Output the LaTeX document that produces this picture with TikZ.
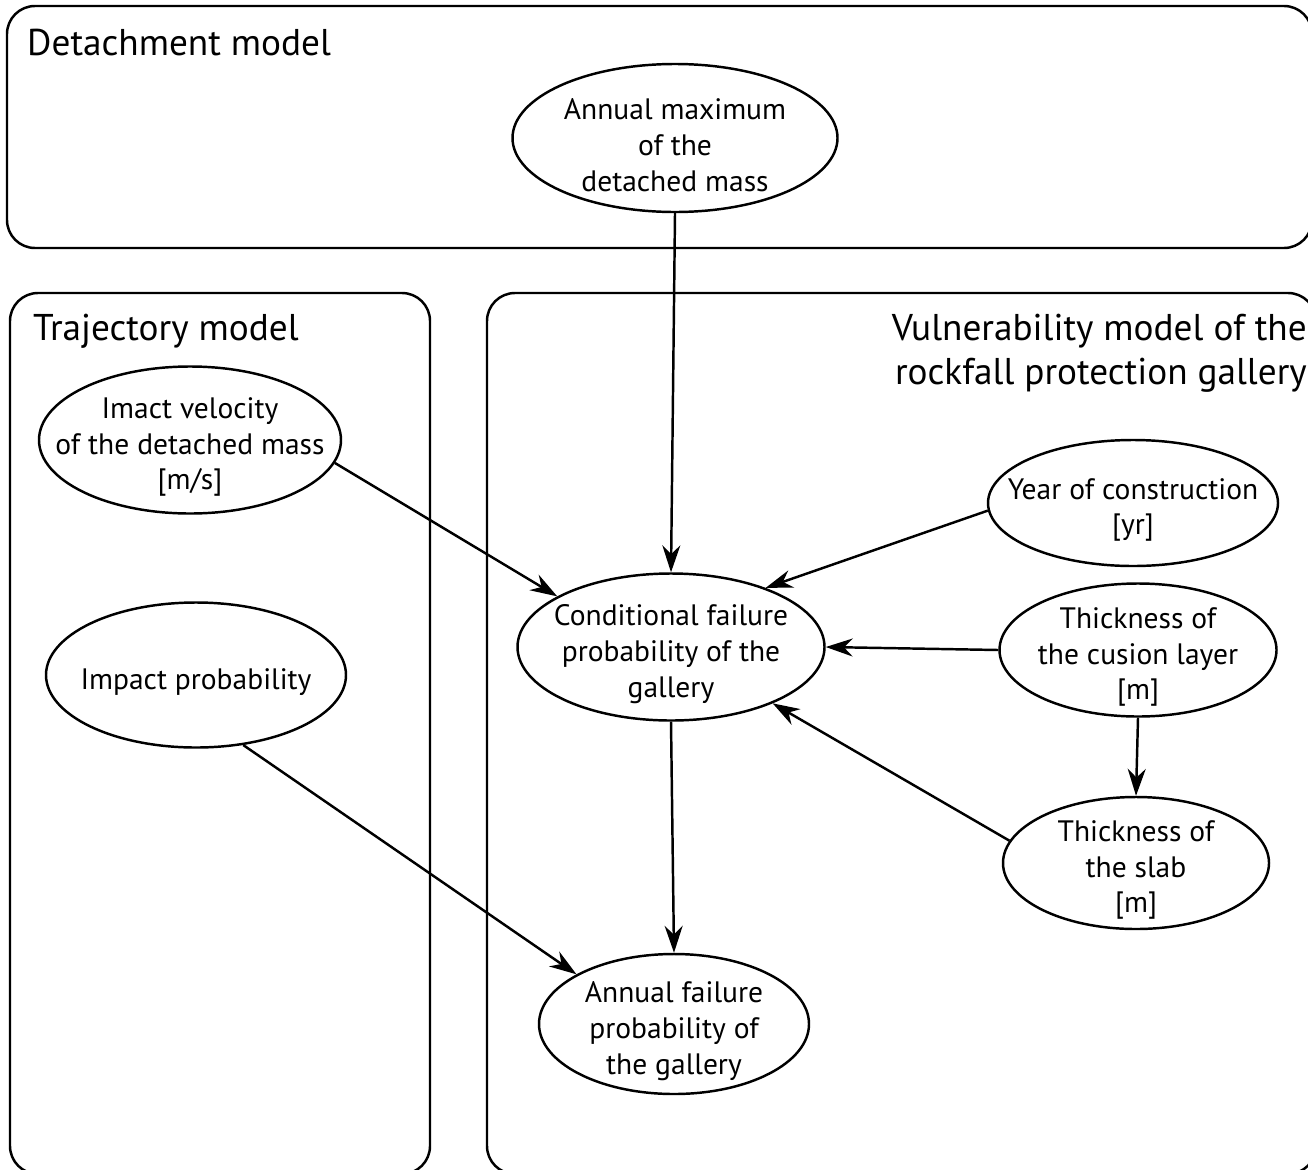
\documentclass[tikz,border=0pt]{standalone}
\usepackage{fontspec}
\setmainfont{PT Sans}
\usetikzlibrary{shapes.geometric,arrows.meta}

\begin{document}
\begin{tikzpicture}[line width=0.7pt, >={Stealth[length=2.7mm,width=1.8mm]},
    model/.style={draw, rounded corners=2.8mm},
    title/.style={inner sep=0pt, font=\fontsize{10.6}{12.5}\selectfont},
    var/.style={draw, ellipse, inner sep=0pt},
    vartext/.style={align=center, yshift=-0.7mm, font=\fontsize{8.4}{10.2}\selectfont}]
  \useasboundingbox (0,0) rectangle (13.08,-11.69);
  \clip (0,0) rectangle (13.08,-11.69);
  % model frames
  \draw [model] (0.07,-0.06) rectangle (13.12,-2.48);
  \draw [model] (0.10,-2.93) rectangle (4.30,-11.74);
  \draw [model] (4.87,-2.93) rectangle (13.16,-11.74);
  \node [title, anchor=base west] (tdet) at (0.26,-0.55) {Detachment model};
  \node [title, anchor=base west] (ttra) at (0.32,-3.40) {Trajectory model};
  \node [title, anchor=north east, align=right] (tvul) at (13.08,-3.13)
    {Vulnerability model of the\\rockfall protection gallery};
  % variables
  \node [var, minimum width=3.25cm, minimum height=1.48cm,
    label={[vartext]center:Annual maximum\\of the\\detached mass}] (amax) at (6.75,-1.38) {};
  \node [var, minimum width=3.02cm, minimum height=1.47cm,
    label={[vartext]center:Imact velocity\\of the detached mass\\{[m/s]}}] (vel) at (1.90,-4.40) {};
  \node [var, minimum width=3.00cm, minimum height=1.45cm,
    label={[vartext]center:Impact probability}] (iprob) at (1.96,-6.75) {};
  \node [var, minimum width=3.07cm, minimum height=1.47cm,
    label={[vartext]center:Conditional failure\\probability of the\\gallery}] (cond) at (6.71,-6.47) {};
  \node [var, minimum width=2.90cm, minimum height=1.26cm,
    label={[vartext]center:Year of construction\\{[yr]}}] (year) at (11.33,-5.03) {};
  \node [var, minimum width=2.77cm, minimum height=1.33cm,
    label={[vartext]center:Thickness of\\the cusion layer\\{[m]}}] (cush) at (11.38,-6.50) {};
  \node [var, minimum width=2.66cm, minimum height=1.32cm,
    label={[vartext]center:Thickness of\\the slab\\{[m]}}] (slab) at (11.36,-8.63) {};
  \node [var, minimum width=2.70cm, minimum height=1.40cm,
    label={[vartext]center:Annual failure\\probability of\\the gallery}] (afail) at (6.74,-10.24) {};
  % dependencies
  \draw [->] (amax.south) -- (cond.north);
  \draw [->] (vel.-9) -- (cond.156);
  \draw [->] (year.183) -- (cond.32);
  \draw [->] (cush.west) -- (cond.east);
  \draw [->] (cush.south) -- (slab.north);
  \draw [->] (slab.170) -- (cond.-29);
  \draw [->] (cond.south) -- (afail.north);
  \draw [->] (iprob.-56) -- (afail.153);
\end{tikzpicture}
\end{document}
